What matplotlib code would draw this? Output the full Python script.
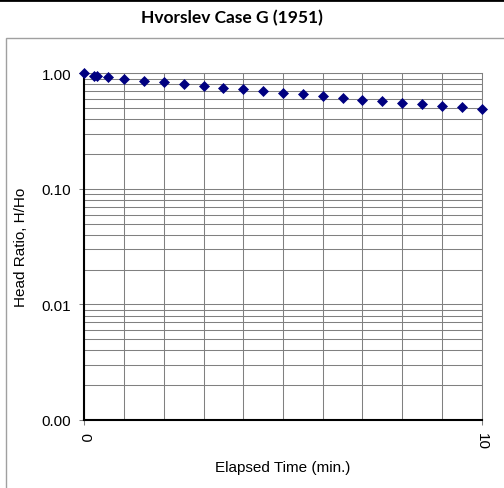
import numpy as np
import matplotlib
matplotlib.use("Agg")
import matplotlib.pyplot as plt
from matplotlib.ticker import FixedLocator, FuncFormatter, NullFormatter
from matplotlib.patches import Rectangle
from matplotlib.lines import Line2D

# datos
tiempo_min = [0, 0.25, 0.33, 0.6, 1.0, 1.5, 2.0, 2.5, 3.0, 3.5, 4.0, 4.5, 5.0,
              5.5, 6.0, 6.5, 7.0, 7.5, 8.0, 8.5, 9.0, 9.5, 10.0]
razon_carga = [1.00, 0.953, 0.94, 0.93, 0.90, 0.86, 0.84, 0.81, 0.78, 0.75, 0.73,
               0.703, 0.68, 0.659, 0.637, 0.608, 0.591, 0.576, 0.557, 0.540, 0.525,
               0.511, 0.491]
titulo = "Hvorslev Case G (1951)"
etiqueta_x = "Elapsed Time (min.)"
etiqueta_y = "Head Ratio, H/Ho"

plt.rcParams['font.family'] = ['Liberation Sans', 'DejaVu Sans']

fig = plt.figure(figsize=(5.04, 4.89), dpi=100)
ax = fig.add_axes([84.3 / 504, 1 - 421 / 489, (481.7 - 84.3) / 504, (421 - 74.3) / 489])

# borde exterior del area del grafico y linea superior
fig.patches.append(Rectangle((6 / 504, -0.1), 1.1, 1 - 39 / 489 + 0.1, transform=fig.transFigure,
                             fill=False, edgecolor='#a0a0a0', linewidth=1.0))
fig.lines.append(Line2D([0, 1], [1 - 1 / 489, 1 - 1 / 489], transform=fig.transFigure,
                        color='black', linewidth=2.0))

ax.plot(tiempo_min, razon_carga, linestyle='none', marker='D', markersize=5.3,
        markeredgewidth=0.5, color='#000080', clip_on=False, zorder=5)

ax.set_yscale('log')
ax.set_ylim(0.001, 1)
ax.set_xlim(0, 10)

ax.yaxis.set_major_locator(FixedLocator([0.001, 0.01, 0.1, 1]))
ax.yaxis.set_major_formatter(FuncFormatter(lambda v, p: f"{v:.2f}"))
ax.yaxis.set_minor_locator(FixedLocator([m * 10.0 ** e for e in (-3, -2, -1) for m in range(2, 10)]))
ax.yaxis.set_minor_formatter(NullFormatter())
ax.xaxis.set_major_locator(FixedLocator([0, 10]))
ax.xaxis.set_minor_locator(FixedLocator(range(1, 10)))

ax.grid(True, which='both', color='#808080', linewidth=0.75)
ax.set_axisbelow(True)

ax.tick_params(axis='both', which='major', direction='out', length=3.5, width=0.75,
               labelsize=11, color='#808080')
ax.tick_params(axis='both', which='minor', length=0)
ax.tick_params(axis='y', pad=6)
ax.tick_params(axis='x', labelrotation=-90, pad=5)

for s in ['top', 'right']:
    ax.spines[s].set_color('#808080')
    ax.spines[s].set_linewidth(0.75)
for s in ['left', 'bottom']:
    ax.spines[s].set_color('black')
    ax.spines[s].set_linewidth(1.5)

ax.set_xlabel(etiqueta_x, fontsize=11, labelpad=8)
ax.set_ylabel(etiqueta_y, fontsize=11, labelpad=10)

fig.text(232 / 504, 1 - 18 / 489, titulo, ha='center', va='center', fontsize=12.5,
         fontweight='bold', family=['Lato', 'DejaVu Sans'])

fig.savefig("out.png", dpi=100)
